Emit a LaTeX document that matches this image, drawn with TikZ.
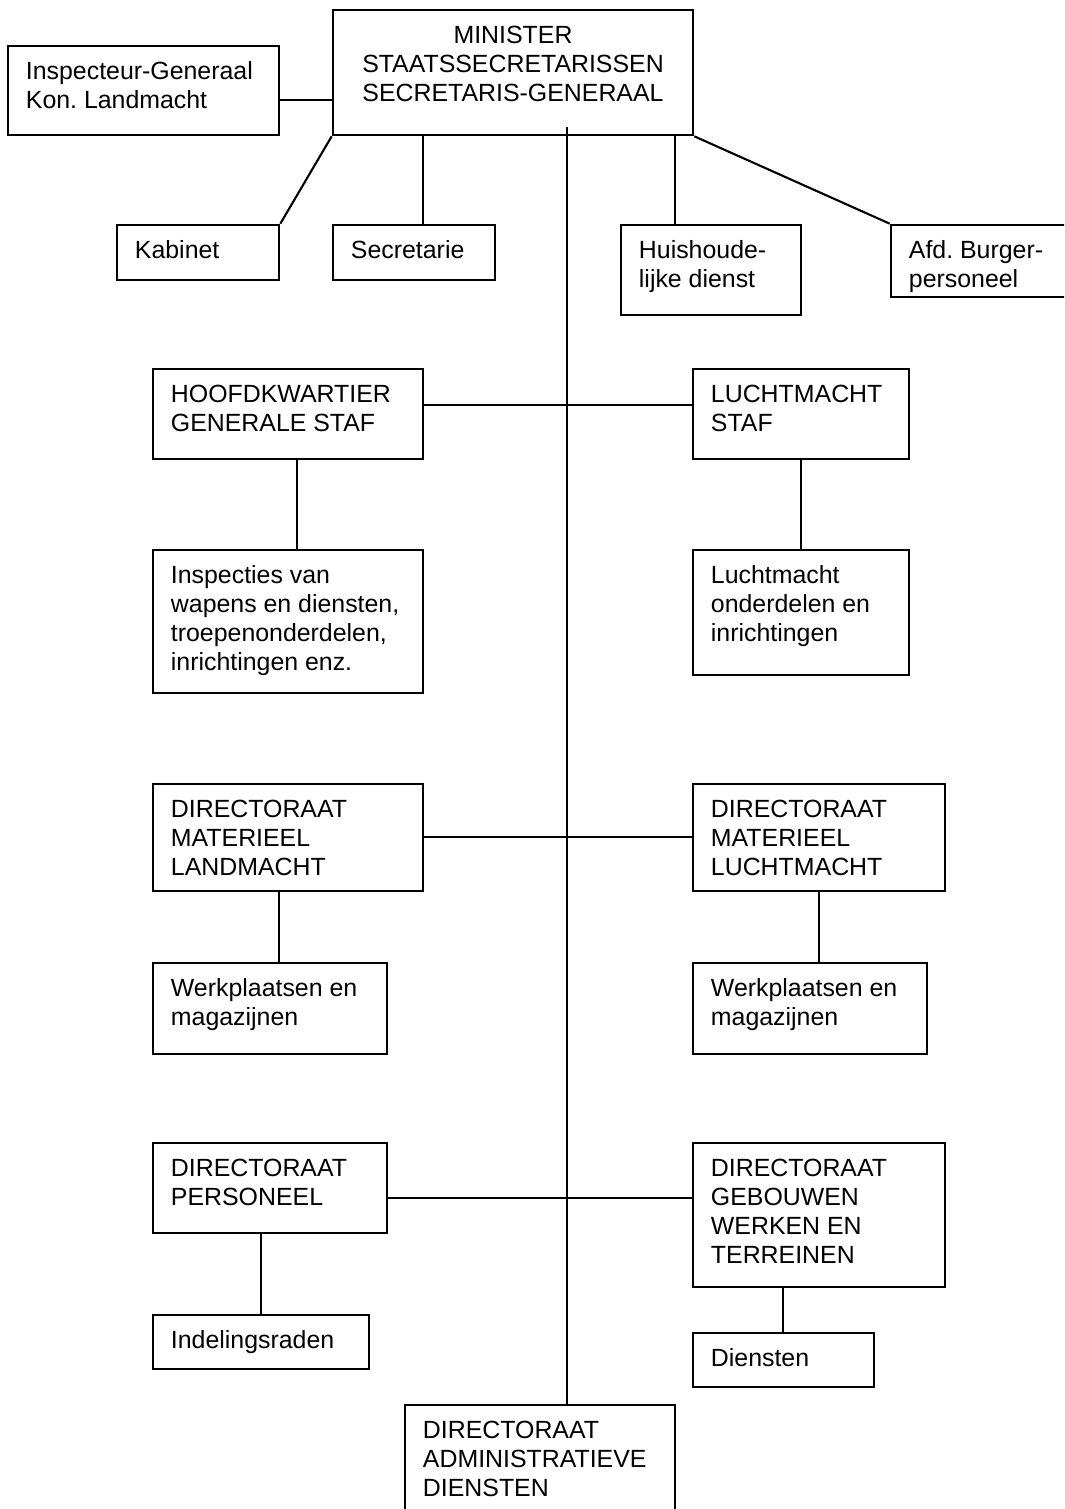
\documentclass[tikz,border=0pt]{standalone}
\usepackage{fontspec}
\setmainfont{Liberation Sans}
\usetikzlibrary{fit}
\begin{document}
\begin{tikzpicture}[x = 0.025cm, y = -0.025cm,
    orgbox/.style = {draw = black, line width = 1.9pt, inner sep = 0pt},
    boxtext/.style = {anchor = north west, shift = {(19, 17)}, inner sep = 0pt, align = left, font = \fontsize{17.7}{20.6}\selectfont\frenchspacing},
    toptext/.style = {anchor = north, shift = {(0, 17)}, inner sep = 0pt, align = center, font = \fontsize{17.7}{20.6}\selectfont\frenchspacing},
    orgline/.style = {draw = black, line width = 1.5pt}]
    \clip (0, 0) rectangle (1064, 1509);

    \node [orgbox, fit = {(333, 10) (693, 135)}] (minister) {};
    \node [orgbox, fit = {(8, 46) (279, 135)}] (insp) {};
    \node [orgbox, fit = {(117, 225) (279, 280)}] (kabinet) {};
    \node [orgbox, fit = {(333, 225) (495, 280)}] (secr) {};
    \node [orgbox, fit = {(621, 225) (801, 315)}] (huis) {};
    \node [orgbox, fit = {(891, 225) (1090, 297)}] (burger) {};

    \node [toptext] at (minister.north) {MINISTER\\STAATSSECRETARISSEN\\SECRETARIS-GENERAAL};
    \node [boxtext] at (insp.north west) {Inspecteur-Generaal\\Kon. Landmacht};
    \node [boxtext] at (kabinet.north west) {Kabinet};
    \node [boxtext] at (secr.north west) {Secretarie};
    \node [boxtext] at (huis.north west) {Huishoude-\\lijke dienst};
    \node [boxtext] at (burger.north west) {Afd. Burger-\\personeel};

    \node [orgbox, fit = {(153, 369) (423, 459)}] (hq) {};
    \node [orgbox, fit = {(693, 369) (909, 459)}] (lstaf) {};
    \node [orgbox, fit = {(153, 550) (423, 693)}] (inspwap) {};
    \node [orgbox, fit = {(693, 550) (909, 675)}] (londer) {};

    \node [boxtext] at (hq.north west) {HOOFDKWARTIER\\GENERALE STAF};
    \node [boxtext] at (lstaf.north west) {LUCHTMACHT\\STAF};
    \node [boxtext] at (inspwap.north west) {Inspecties van\\wapens en diensten,\\troepenonderdelen,\\inrichtingen enz.};
    \node [boxtext] at (londer.north west) {Luchtmacht\\onderdelen en\\inrichtingen};

    \node [orgbox, fit = {(153, 784) (423, 891)}] (dml) {};
    \node [orgbox, fit = {(693, 784) (945, 891)}] (dmlu) {};
    \node [orgbox, fit = {(153, 963) (387, 1054)}] (werkl) {};
    \node [orgbox, fit = {(693, 963) (927, 1054)}] (werkr) {};

    \node [boxtext] at (dml.north west) {DIRECTORAAT\\MATERIEEL\\LANDMACHT};
    \node [boxtext] at (dmlu.north west) {DIRECTORAAT\\MATERIEEL\\LUCHTMACHT};
    \node [boxtext] at (werkl.north west) {Werkplaatsen en\\magazijnen};
    \node [boxtext] at (werkr.north west) {Werkplaatsen en\\magazijnen};

    \node [orgbox, fit = {(153, 1143) (387, 1233)}] (dpers) {};
    \node [orgbox, fit = {(693, 1143) (945, 1287)}] (dgeb) {};
    \node [orgbox, fit = {(153, 1315) (369, 1369)}] (indel) {};
    \node [orgbox, fit = {(693, 1333) (874, 1387)}] (diensten) {};
    \node [orgbox, fit = {(405, 1405) (675, 1540)}] (dadm) {};

    \node [boxtext] at (dpers.north west) {DIRECTORAAT\\PERSONEEL};
    \node [boxtext] at (dgeb.north west) {DIRECTORAAT\\GEBOUWEN\\WERKEN EN\\TERREINEN};
    \node [boxtext] at (indel.north west) {Indelingsraden};
    \node [boxtext] at (diensten.north west) {Diensten};
    \node [boxtext] at (dadm.north west) {DIRECTORAAT\\ADMINISTRATIEVE\\DIENSTEN};

    \coordinate (igrow) at (306, 100);
    \coordinate (secx) at (423, 0);
    \coordinate (huisx) at (675, 0);
    \coordinate (spine) at (567, 127);
    \coordinate (row1) at (567, 405);
    \coordinate (row2) at (567, 837);
    \coordinate (row3) at (567, 1198);
    \coordinate (hqx) at (297, 0);
    \coordinate (lstafx) at (801, 0);
    \coordinate (dmlx) at (279, 0);
    \coordinate (dmlux) at (819, 0);
    \coordinate (dpersx) at (261, 0);
    \coordinate (dgebx) at (783, 0);

    \draw [orgline] (insp.east |- igrow) -- (minister.west |- igrow);
    \draw [orgline] (minister.south west) -- (kabinet.north east);
    \draw [orgline] (minister.south -| secx) -- (secr.north -| secx);
    \draw [orgline] (minister.south -| huisx) -- (huis.north -| huisx);
    \draw [orgline] (minister.south east) -- (burger.north west);
    \draw [orgline] (spine) -- (spine |- dadm.north);

    \draw [orgline] (hq.east |- row1) -- (lstaf.west |- row1);
    \draw [orgline] (hq.south -| hqx) -- (inspwap.north -| hqx);
    \draw [orgline] (lstaf.south -| lstafx) -- (londer.north -| lstafx);

    \draw [orgline] (dml.east |- row2) -- (dmlu.west |- row2);
    \draw [orgline] (dml.south -| dmlx) -- (werkl.north -| dmlx);
    \draw [orgline] (dmlu.south -| dmlux) -- (werkr.north -| dmlux);

    \draw [orgline] (dpers.east |- row3) -- (dgeb.west |- row3);
    \draw [orgline] (dpers.south -| dpersx) -- (indel.north -| dpersx);
    \draw [orgline] (dgeb.south -| dgebx) -- (diensten.north -| dgebx);
\end{tikzpicture}
\end{document}
